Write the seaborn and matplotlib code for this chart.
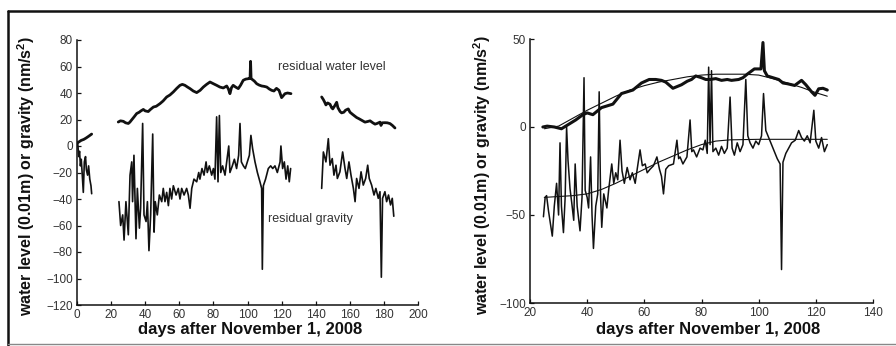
import matplotlib
matplotlib.use("Agg")
import matplotlib.pyplot as plt
from matplotlib.lines import Line2D
import seaborn as sns

# ---------------- left panel: days 0-200 ----------------
# residual water level, three recording segments
wl_a_day = [0, 1, 2.4, 4, 5.3, 7, 8.6]
wl_a_val = [2, 3, 4.2, 5, 6, 7.5, 9]

wl_b_day = [24.2, 25.5, 27.2, 28.5, 30.1, 31, 32, 33.5, 35, 36.5, 37.5, 38.9, 40, 41.8,
            43, 44.8, 46.5, 48.7, 50.5, 52.6, 54.5, 56.5, 58.5, 60.4, 61.8, 63.3, 64.8,
            66.3, 68.2, 70.2, 72.2, 74.1, 76, 78, 80, 81.9, 83.8, 85.8, 87.8, 88.8, 89.7,
            90.6, 91.6, 93, 94.6, 96, 97.5, 99, 100.5, 101.5, 101.8, 102.1, 103, 104,
            105.4, 106.8, 108.3, 109.8, 111.3, 112.8, 114.2, 115.5, 117, 118.5, 120, 121,
            122, 123.5, 125.5]
wl_b_val = [18.1, 19, 18.6, 17.5, 17, 18, 19.6, 22, 24.5, 25.5, 26.5, 27.6, 26.5, 26,
            27.5, 29.4, 30, 32, 34, 37, 38.5, 40.8, 43.5, 45.8, 46.5, 45.8, 44.5,
            43.3, 41.5, 40.3, 42, 44.5, 46.5, 48.3, 47, 45.8, 44.5, 43.8, 45.3, 43, 39.5,
            44, 45.8, 44.5, 43.3, 46, 49.6, 50.5, 50.8, 51, 63.9, 51, 50, 49,
            47, 46, 45.3, 45, 44.5, 43, 42, 41.5, 43.5, 42, 36.5, 38,
            39.5, 40, 39.5]

wl_c_day = [143.5, 144.5, 145.3, 146, 147, 148.4, 149.3, 150, 151, 152.3, 153, 154.3,
            155.2, 156.5, 157.5, 159.1, 160.1, 161.5, 163, 164, 165.5, 167, 168.9,
            170.5, 171.9, 173.5, 174.8, 176, 177.7, 178.3, 179, 180.6, 182, 183.6, 185,
            186.5]
wl_c_val = [37, 35, 33, 31, 32.5, 31.5, 29, 28, 30, 33, 29, 26,
            25, 25.5, 27, 28, 25.5, 24, 22.5, 21.5, 20.5, 19.4, 18,
            18.5, 19, 17.5, 16.5, 17, 18, 15.5, 17.5, 17.6, 17.5, 16.9, 15.5,
            13.6]

# residual gravity, three recording segments
gr_a_day = [0, 0.5, 1, 1.5, 2, 2.5, 3, 3.7, 4.3, 5, 5.5, 6.2, 6.8, 7.5, 8.2, 8.6]
gr_a_val = [3, 1, -8, -4, -15, -10, -20, -35, -12, -8, -18, -22, -15, -25, -30, -36]

gr_b_day = [24.6, 25.6, 26.8, 27.6, 28.7, 30.1, 31.1, 32.1, 32.6, 33.4, 34.6, 35.4, 36.6,
            37.3, 38.5, 39.3, 40.5, 41.3, 42.2, 43.2, 44.4, 45.2, 45.9, 47.1, 48.3, 49.7,
            50.6, 51.6, 52.6, 53.6, 54.5, 55.5, 56.5, 58.1, 59.4, 60.4, 61.4, 62.8, 64.3,
            65.3, 66.3, 67.3, 68.6, 70.2, 71.4, 72.1, 73.3, 74.5, 75.7, 76.4, 77.6, 79,
            80, 80.9, 81.9, 82.7, 83.5, 84.3, 85.4, 86.8, 87.8, 89, 89.7, 91.1, 92.3,
            93.6, 94.8, 95.6, 96.4, 97.6, 98.7, 99.9, 101.1, 102, 103, 104.4, 105.8,
            107.3, 108.3, 108.7, 109.3, 110.6, 112.2, 113.6, 114.8, 116.1, 117.5, 119.1,
            119.6, 120.6, 121.6, 122.6, 123.6, 124.5, 125.3]
gr_b_val = [-42, -60, -52, -71, -42, -67, -22, -12, -42, -7, -70, -32, -62,
            -47, 17, -52, -57, -42, -79, -52, 9, -65, -42, -52, -37, -42,
            -32, -42, -35, -45, -32, -40, -30, -37, -32, -40, -32, -37, -32,
            -37, -47, -32, -25, -27, -20, -25, -17, -22, -12, -20, -15, -22,
            -17, -25, 22, -27, 23, -20, -15, -22, -12, 0, -20, -15, -10,
            -17, -7, 17, -12, -15, -17, -12, -7, 8, -2, -12, -20,
            -27, -32, -93, -30, -25, -17, -15, -17, -15, -20, -12,
            0, -17, -12, -25, -15, -27, -17]

gr_c_day = [143.5, 144.5, 146, 147.4, 148.4, 149.7, 150.7, 151.9, 152.7, 154.2, 155.8,
            157.2, 158.2, 159.5, 160.7, 162.1, 163.1, 164, 165.4, 166.6, 167.9, 169.3,
            170.5, 171.4, 172.8, 174.2, 175.3, 176.7, 177.7, 178.5, 179.2, 180.6, 181.6,
            182.7, 183.9, 184.9, 185.8]
gr_c_val = [-32, -4.5, -12, 5.5, -14.5, -9.5, -22, -14.5, -24.5, -19.5, -4.5,
            -17, -24.5, -12, -22, -32, -42, -24.5, -32, -19.5, -29.5, -24.5,
            -14.5, -24.5, -29.5, -37, -32, -39.5, -34.5, -99, -39.5, -34.5, -42,
            -37, -44.5, -39.5, -53]

# ---------------- right panel: days 20-140 ----------------
rw_day = [24.5, 26, 28.5, 31, 33, 34.5, 36, 38.5, 40, 42, 43.5, 45, 47, 49, 50.5, 52,
          54, 56, 57.5, 59, 61.7, 64, 66, 67.5, 70, 71.5, 73, 75, 76.5, 78, 80, 81.5,
          83, 85, 87, 89, 90.5, 93, 94.5, 96, 98.5, 100.8, 101.5, 102, 103, 105, 107,
          108.5, 110, 112.6, 115, 116.5, 118.5, 119.7, 121, 122.5, 124]
rw_val = [0, 0.5, 0, -1, 1, 2.5, 4, 7, 8, 7, 9, 11, 12, 13, 16, 19,
          20, 21, 23, 25, 27, 27, 26.5, 25.5, 22, 23, 24, 26, 27, 29, 28, 27,
          27, 27.5, 26.5, 27, 26.5, 27, 28, 30, 33, 33, 48, 32, 29, 28, 27,
          25, 24.6, 23.6, 26.5, 24, 20, 18, 21.7, 22, 21]

rg_day = [24.7, 25.3, 25.8, 26.5, 27.8, 28.5, 29.3, 30.0, 30.5, 31.0, 31.7, 32.3, 32.8,
          33.3, 34.0, 34.6, 35.3, 35.8, 36.5, 37.5, 38.2, 38.9, 39.3, 40.0, 40.5, 41.2,
          41.7, 42.2, 43.0, 43.7, 44.2, 44.7, 45.1, 45.8, 46.9, 47.5, 48.6, 49.3, 50.0,
          50.7, 51.5, 52.2, 53.0, 54.0, 55.0, 55.8, 56.8, 57.5, 58.5, 59.3, 60.3, 61.0,
          62.0, 63.2, 64.4, 65.3, 66.0, 66.7, 67.5, 68.5, 70.2, 71.4, 72.0, 72.5, 73.5,
          74.9, 76.0, 76.6, 77.2, 78.3, 79.5, 80.5, 81.3, 82.0, 82.5, 83.0, 83.5, 84.0,
          85.0, 86.0, 87.0, 88.0, 89.0, 90.0, 90.7, 91.5, 92.5, 93.5, 94.5, 95.5, 96.2,
          97.0, 98.0, 99.0, 100.0, 101.0, 101.7, 102.5, 103.5, 104.5, 105.5, 106.5,
          107.5, 108.0, 108.5, 109.5, 110.5, 111.5, 112.8, 114.0, 115.0, 116.0, 117.0,
          118.0, 119.3, 120.0, 121.0, 122.0, 123.0, 124.0]
rg_val = [-51, -40, -39, -48, -62, -45, -32, -50, -9, -45, -60, -40, 0,
          -19, -35, -43, -53, -21, -45, -59, -40, 28, -36, -40, -46, -17,
          -50, -69, -45, -38, 20, -40, -57, -38, -46, -36, -21, -32, -26,
          -30, -7.5, -25, -32, -23, -30, -26, -32, -24, -13, -22, -21, -26,
          -24, -22, -17, -24, -28, -38, -24, -22, -21, -7.5, -18, -17, -21,
          -17, 4, -14, -13, -17, -12, -13, -7.5, -15, 34, -10, 32, -14,
          -12, -16, -11, -15, -12, 17, -12, -16, -9, -14, -10, 27, -5,
          -9, -12, -8, -10, -5, 19, -2, -6, -10, -14, -18,
          -21, -81, -20, -15, -12, -9, -7.5, -2, -6, -8, -5,
          -9, 9.5, -8, -12, -6, -14, -10]

# smooth trend curves
rw_fit_day = [25, 30, 35, 40, 45, 50, 55, 60, 65, 70, 75, 80, 85, 90, 95, 100, 105,
              110, 115, 120, 124]
rw_fit_val = [-1, 0.5, 5, 9.5, 13.5, 17.5, 21, 23.5, 25.5, 27, 28.5, 29.5, 30, 30, 30,
              29.5, 27.5, 25, 22.5, 19.5, 17.5]
rg_fit_day = [25, 30, 35, 40, 45, 50, 55, 60, 65, 70, 75, 80, 85, 90, 100, 110, 124]
rg_fit_val = [-40, -39.5, -39, -38, -35.5, -32, -28, -24, -20, -16.5, -13, -10, -8,
              -7.3, -7, -7, -7]

left_yticks = [80, 60, 40, 20, 0, -20, -40, -60, -80, -100, -120]
left_xticks = [0, 20, 40, 60, 80, 100, 120, 140, 160, 180, 200]
right_yticks = [50, 0, -50, -100]
right_xticks = [20, 40, 60, 80, 100, 120, 140]

ylabel_text = "water level (0.01m) or gravity (nm/s$^\\mathbf{2}$)"
xlabel_text = "days after November 1, 2008"

sns.set_theme(style="white")
plt.rcParams["font.family"] = ["Liberation Sans", "DejaVu Sans"]
plt.rcParams["mathtext.fontset"] = "custom"
plt.rcParams["mathtext.bf"] = "Liberation Sans:bold"
plt.rcParams["mathtext.rm"] = "Liberation Sans"

fig = plt.figure(figsize=(8.96, 3.46), dpi=100)
fig.patch.set_facecolor("white")

axL = fig.add_axes([77 / 896, 1 - 305 / 346, 341 / 896, 265 / 346])
axR = fig.add_axes([530 / 896, 1 - 303 / 346, 343 / 896, 264 / 346])

ink = "#111111"


def draw(ax, d, v, lw):
    sns.lineplot(x=d, y=v, ax=ax, color=ink, linewidth=lw, sort=False,
                 estimator=None, legend=False)


for d, v in [(gr_a_day, gr_a_val), (gr_b_day, gr_b_val), (gr_c_day, gr_c_val)]:
    draw(axL, d, v, 1.2)
for d, v in [(wl_a_day, wl_a_val), (wl_b_day, wl_b_val), (wl_c_day, wl_c_val)]:
    draw(axL, d, v, 2.0)

draw(axR, rg_day, rg_val, 1.1)
draw(axR, rw_day, rw_val, 2.2)
draw(axR, rw_fit_day, rw_fit_val, 0.8)
draw(axR, rg_fit_day, rg_fit_val, 0.8)

axL.text(118, 60, "residual water level", fontsize=9, color="#333333",
         ha="left", va="center")
axL.text(112, -55, "residual gravity", fontsize=9, color="#333333",
         ha="left", va="center")

for ax, xt, yt, xl, yl in [(axL, left_xticks, left_yticks, (0, 200), (-120, 80)),
                           (axR, right_xticks, right_yticks, (20, 140), (-100, 50))]:
    ax.set_xlim(*xl)
    ax.set_ylim(*yl)
    ax.set_xticks(xt)
    ax.set_yticks(yt)
    ax.set_facecolor("white")
    for s in ["top", "right"]:
        ax.spines[s].set_visible(False)
    for s in ["left", "bottom"]:
        ax.spines[s].set_color(ink)
        ax.spines[s].set_linewidth(1.1)
    ax.tick_params(axis="both", direction="in", length=3, width=0.9, color=ink,
                   labelsize=8.5, labelcolor="#333333", pad=3,
                   bottom=True, left=True)
    ax.set_ylabel(ylabel_text, fontsize=11.5, fontweight="bold", color=ink)
    ax.set_xlabel(xlabel_text, fontsize=12, fontweight="bold", color=ink)
    ax.grid(False)

axL.yaxis.set_label_coords(-0.117, 0.487)
axR.yaxis.set_label_coords(-0.108, 0.485)
axL.xaxis.set_label_coords(0.507, -0.064)
axR.xaxis.set_label_coords(0.519, -0.072)

# page frame around the figure
fig.add_artist(Line2D([8 / 896, 1], [1 - 11 / 346, 1 - 11 / 346], color=ink, lw=1.8,
                      transform=fig.transFigure))
fig.add_artist(Line2D([8 / 896, 8 / 896], [0, 1 - 11 / 346], color=ink, lw=1.8,
                      transform=fig.transFigure))
fig.add_artist(Line2D([8 / 896, 1], [1 - 344 / 346, 1 - 344 / 346], color="#888888",
                      lw=1.0, transform=fig.transFigure))

fig.savefig("out.png", dpi=100)
